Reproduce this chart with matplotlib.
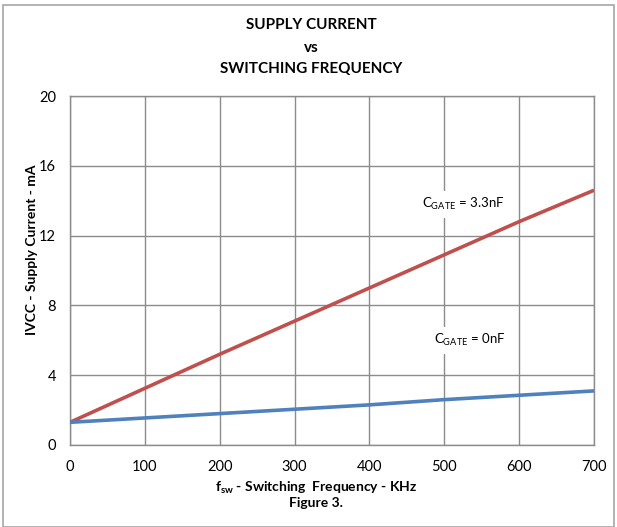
import matplotlib
matplotlib.use("Agg")
import matplotlib.pyplot as plt
from matplotlib.patches import Rectangle

plt.rcParams['font.family'] = ['Lato', 'DejaVu Sans']
plt.rcParams['mathtext.fontset'] = 'custom'
plt.rcParams['mathtext.rm'] = 'Lato'

# data
freq_khz = [0, 100, 200, 300, 400, 500, 600, 700]
i_3n3 = [1.3, 3.25, 5.2, 7.1, 9.0, 10.9, 12.8, 14.6]
i_0n = [1.3, 1.55, 1.8, 2.05, 2.3, 2.6, 2.85, 3.1]

x_ticks = [0, 100, 200, 300, 400, 500, 600, 700]
y_ticks = [0, 4, 8, 12, 16, 20]

grid_col = "#8c8c8c"

fig = plt.figure(figsize=(6.17, 5.27), dpi=100)
ax = fig.add_axes([0.1135, 0.1556, 0.8492, 0.6622])

ax.plot(freq_khz, i_3n3, color="#c0504d", lw=2.6, solid_capstyle="butt", zorder=3)
ax.plot(freq_khz, i_0n, color="#4f81bd", lw=2.6, solid_capstyle="butt", zorder=3)

ax.set_xlim(0, 700)
ax.set_ylim(0, 20)
ax.set_xticks(x_ticks)
ax.set_yticks(y_ticks)
ax.grid(True, color=grid_col, lw=1.0)
ax.set_axisbelow(True)
for s in ax.spines.values():
    s.set_color(grid_col)
    s.set_linewidth(1.0)
ax.tick_params(length=0, labelsize=10.5, colors="black")
ax.tick_params(axis="y", pad=10)
ax.tick_params(axis="x", pad=11)

box = dict(facecolor="white", edgecolor="none", pad=4)
ax.text(525, 13.8, r"C$\mathregular{_{GATE}}$ = 3.3nF", fontsize=9.5,
        ha="center", va="center", bbox=box, zorder=2)
ax.text(534, 6.0, r"C$\mathregular{_{GATE}}$ = 0nF", fontsize=9.5,
        ha="center", va="center", bbox=box, zorder=2)

ax.set_ylabel("IVCC - Supply Current - mA", fontsize=10, fontweight="bold")
ax.yaxis.set_label_coords(-0.062, 0.56)

fig.text(0.5115, 0.074, r"f$\mathregular{_{sw}}$ - Switching  Frequency - KHz",
         fontsize=10, fontweight="bold", ha="center", va="center")
fig.text(0.5115, 0.045, "Figure 3.", fontsize=10, fontweight="bold",
         ha="center", va="center")

fig.text(0.505, 0.952, "SUPPLY CURRENT", fontsize=11, fontweight="bold",
         ha="center", va="center")
fig.text(0.505, 0.908, "vs", fontsize=11, fontweight="bold",
         ha="center", va="center")
fig.text(0.505, 0.869, "SWITCHING FREQUENCY", fontsize=11, fontweight="bold",
         ha="center", va="center")

# outer chart border
fig.patches.append(Rectangle((0.005, 0.0), 0.99, 0.99, transform=fig.transFigure,
                             fill=False, edgecolor="#a6a6a6", lw=1.2))

fig.savefig("out.png", dpi=100)
